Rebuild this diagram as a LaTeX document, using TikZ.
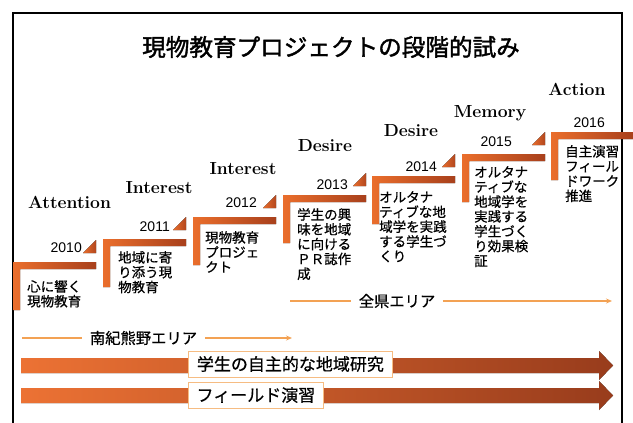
\documentclass[tikz,border=0pt]{standalone}
\usepackage{fontspec}
\usetikzlibrary{arrows.meta}
\newfontfamily\jpfont[FakeBold=0.6]{Noto Sans CJK JP}
\newfontfamily\jptitle[FakeBold=1.6]{Noto Sans CJK JP}
\newfontfamily\yearfont{Liberation Sans}
\definecolor{steporange}{RGB}{234,110,44}
\definecolor{stepbrown}{RGB}{168,64,28}
\definecolor{bandorange}{RGB}{236,114,52}
\definecolor{bandmid}{RGB}{222,96,42}
\definecolor{bandbrown}{RGB}{152,60,28}
\definecolor{arealine}{RGB}{243,162,84}
\definecolor{boxline}{RGB}{246,188,130}

\begin{document}
\begin{tikzpicture}[x=1pt, y=-1pt,
		stairbar/.style={left color=steporange, right color=stepbrown},
		stairtip/.style={left color=steporange, right color=stepbrown!85!steporange},
		stage/.style={font=\bfseries\fontsize{17.5}{18}\selectfont, inner sep=0pt},
		yearlbl/.style={font=\yearfont\fontsize{14}{15}\selectfont, anchor=east, inner sep=0pt},
		desc/.style={font=\jpfont\fontsize{13.5}{14.8}\selectfont, align=left, anchor=north west, inner sep=0pt},
		areatxt/.style={font=\jpfont\fontsize{15.3}{16}\selectfont, inner xsep=7.5pt, inner ysep=0pt},
		arealn/.style={draw=arealine, line width=1.5pt},
		bigarrow/.style={left color=bandorange, middle color=bandmid, right color=bandbrown},
		bandbox/.style={draw=boxline, line width=0.8pt, fill=white, anchor=west, inner xsep=7pt, minimum height=26pt, font=\jpfont\fontsize{17}{18}\selectfont}]
	\useasboundingbox (0,0) rectangle (633,423);
	\draw[line width=1.4pt] (13,423) -- (13,13) -- (622,13) -- (622,423);
	
	\node[font=\jptitle\fontsize{23.6}{24}\selectfont] (title) at (331,47) {現物教育プロジェクトの段階的試み};
	
	\coordinate (s1) at (13,262);
	\coordinate (s2) at (103,239);
	\coordinate (s3) at (193,217);
	\coordinate (s4) at (283,195);
	\coordinate (s5) at (372,176);
	\coordinate (s6) at (462,154);
	\coordinate (s7) at (551,132);
	
	\fill[stairbar] (s1) -- ++(83,0) -- ++(0,7) -- ++(-76,0) -- ++(0,41) -- ++(-7,0) -- cycle;
	\fill[stairbar] (s2) -- ++(83,0) -- ++(0,7) -- ++(-76,0) -- ++(0,41) -- ++(-7,0) -- cycle;
	\fill[stairbar] (s3) -- ++(83,0) -- ++(0,7) -- ++(-76,0) -- ++(0,41) -- ++(-7,0) -- cycle;
	\fill[stairbar] (s4) -- ++(83,0) -- ++(0,7) -- ++(-76,0) -- ++(0,41) -- ++(-7,0) -- cycle;
	\fill[stairbar] (s5) -- ++(83,0) -- ++(0,7) -- ++(-76,0) -- ++(0,41) -- ++(-7,0) -- cycle;
	\fill[stairbar] (s6) -- ++(83,0) -- ++(0,7) -- ++(-76,0) -- ++(0,41) -- ++(-7,0) -- cycle;
	\fill[stairbar] (s7) -- ++(83,0) -- ++(0,7) -- ++(-76,0) -- ++(0,41) -- ++(-7,0) -- cycle;
	
	\fill[stairtip] ([shift={(70,-9)}]s1) -- ++(13,0) -- ++(0,-13) -- cycle;
	\fill[stairtip] ([shift={(70,-9)}]s2) -- ++(13,0) -- ++(0,-13) -- cycle;
	\fill[stairtip] ([shift={(70,-9)}]s3) -- ++(13,0) -- ++(0,-13) -- cycle;
	\fill[stairtip] ([shift={(70,-9)}]s4) -- ++(13,0) -- ++(0,-13) -- cycle;
	\fill[stairtip] ([shift={(70,-9)}]s5) -- ++(13,0) -- ++(0,-13) -- cycle;
	\fill[stairtip] ([shift={(70,-9)}]s6) -- ++(13,0) -- ++(0,-13) -- cycle;
	
	\node[yearlbl] (y2010) at (82,248) {2010};
	\node[yearlbl] (y2011) at (170,227) {2011};
	\node[yearlbl] (y2012) at (257,203) {2012};
	\node[yearlbl] (y2013) at (348,185) {2013};
	\node[yearlbl] (y2014) at (437,167) {2014};
	\node[yearlbl] (y2015) at (512,142) {2015};
	\node[yearlbl] (y2016) at (605,123) {2016};
	
	\node[stage] (attention) at (69.5,202) {Attention};
	\node[stage] (interestA) at (159,188) {Interest};
	\node[stage] (interestB) at (243,169) {Interest};
	\node[stage] (desireA) at (325,146) {Desire};
	\node[stage] (desireB) at (411,131) {Desire};
	\node[stage] (memory) at (490,113) {Memory};
	\node[stage] (action) at (577,89) {Action};
	
	\node[desc] (d1) at (27,280) {心に響く\\現物教育};
	\node[desc] (d2) at (118,251) {地域に寄\\り添う現\\物教育};
	\node[desc] (d3) at (205,231) {現物教育\\プロジェ\\クト};
	\node[desc] (d4) at (297,208) {学生の興\\味を地域\\に向ける\\ＰＲ誌作\\成};
	\node[desc] (d5) at (379,191) {オルタナ\\ティブな地\\域学を実践\\する学生づ\\くり};
	\node[desc] (d6) at (474,166) {オルタナ\\ティブな\\地域学を\\実践する\\学生づく\\り効果検\\証};
	\node[desc] (d7) at (565,145) {自主演習\\フィール\\ドワーク\\推進};
	
	\coordinate (zkL) at (290,301);
	\coordinate (zkR) at (612,301);
	\node[areatxt] (zenken) at (397,301) {全県エリア};
	\draw[arealn] (zkL) -- (zenken);
	\draw[arealn, -{Stealth[length=6pt, width=5pt]}] (zenken) -- (zkR);
	
	\coordinate (nkL) at (22,338);
	\coordinate (nkR) at (292,338);
	\node[areatxt] (nanki) at (143.5,338) {南紀熊野エリア};
	\draw[arealn] (nkL) -- (nanki);
	\draw[arealn, -{Stealth[length=6pt, width=5pt]}] (nanki) -- (nkR);
	
	\fill[bigarrow] (21,358) -- (599,358) -- (599,351) -- (613,365.5) -- (599,380) -- (599,373) -- (21,373) -- cycle;
	\fill[bigarrow] (21,388) -- (599,388) -- (599,381) -- (613,395.5) -- (599,410) -- (599,403) -- (21,403) -- cycle;
	
	\node[bandbox, minimum width=204pt] (research) at (188,364) {学生の自主的な地域研究};
	\node[bandbox, minimum width=135pt] (field) at (188,395) {フィールド演習};
\end{tikzpicture}
\end{document}
